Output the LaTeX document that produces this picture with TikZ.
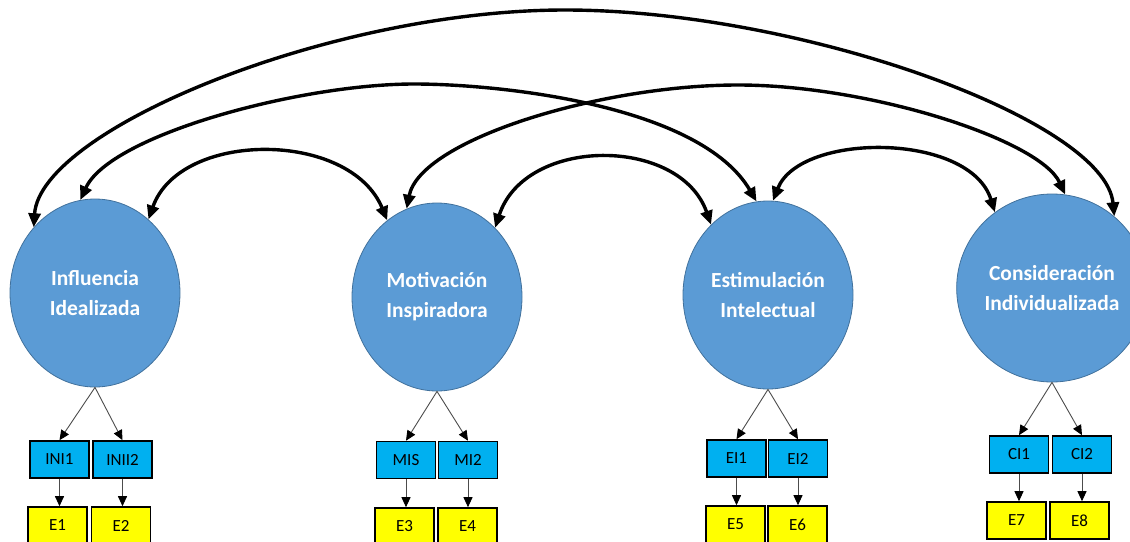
\documentclass[tikz,border=0pt]{standalone}
\usepackage{fontspec}
\setmainfont{Carlito}
\usetikzlibrary{shapes.geometric,arrows.meta}
\definecolor{factorblue}{HTML}{5B9BD5}
\definecolor{factoredge}{HTML}{41719C}
\definecolor{itemcyan}{HTML}{00B0F0}
\definecolor{erryellow}{HTML}{FFFF00}
\begin{document}
\begin{tikzpicture}[x=1pt,y=-1pt,
  factor/.style={ellipse, draw=factoredge, line width=0.8pt, fill=factorblue,
    minimum width=170pt, minimum height=188pt, inner sep=0pt, align=center,
    text=white, font=\fontsize{21.5}{30}\selectfont\bfseries},
  item/.style={rectangle, draw=black, line width=1.6pt, fill=itemcyan,
    minimum width=59pt, minimum height=37pt, inner sep=0pt,
    font=\fontsize{17}{20}\selectfont},
  err/.style={item, fill=erryellow},
  cov/.style={line width=3.4pt,
    {Triangle[length=14pt,width=12pt]}-{Triangle[length=14pt,width=12pt]}},
  load/.style={line width=0.9pt, draw=black!70,
    -{Triangle[length=10pt,width=9pt,color=black]}},
]
\useasboundingbox (0,0) rectangle (1130,541);

% latent factors
\node[factor] (e1) at (95,293)   {Influencia\\Idealizada};
\node[factor] (e2) at (437,297)  {Motivación\\Inspiradora};
\node[factor] (e3) at (768,295)  {Estimulación\\Intelectual};
\node[factor] (e4) at (1052,288) {Consideración\\Individualizada};

% indicators
\node[item] (i1) at (59.5,459.5)  {INI1};
\node[item] (i2) at (122.5,459.5) {INII2};
\node[item] (i3) at (406,460)     {MIS};
\node[item] (i4) at (468,460)     {MI2};
\node[item] (i5) at (736.5,458.5) {EI1};
\node[item] (i6) at (798,458.5)   {EI2};
\node[item] (i7) at (1019,454.5)  {CI1};
\node[item] (i8) at (1082,454.5)  {CI2};

% error terms
\node[err] (r1) at (57.5,525.5)   {E1};
\node[err] (r2) at (121,525.5)    {E2};
\node[err] (r3) at (404.5,526.5)  {E3};
\node[err] (r4) at (467.5,526.5)  {E4};
\node[err] (r5) at (735.5,524.5)  {E5};
\node[err] (r6) at (797.5,524.5)  {E6};
\node[err] (r7) at (1016.5,520.5) {E7};
\node[err] (r8) at (1079.5,520.5) {E8};

% loadings
\draw[load] (e1.south) -- (i1.north);
\draw[load] (e1.south) -- (i2.north);
\draw[load] (e2.south) -- (i3.north);
\draw[load] (e2.south) -- (i4.north);
\draw[load] (e3.south) -- (i5.north);
\draw[load] (e3.south) -- (i6.north);
\draw[load] (e4.south) -- (i7.north);
\draw[load] (e4.south) -- (i8.north);

% error paths, kept vertical
\draw[load] (i1.south) -- (i1.south |- r1.north);
\draw[load] (i2.south) -- (i2.south |- r2.north);
\draw[load] (i3.south) -- (i3.south |- r3.north);
\draw[load] (i4.south) -- (i4.south |- r4.north);
\draw[load] (i5.south) -- (i5.south |- r5.north);
\draw[load] (i6.south) -- (i6.south |- r6.north);
\draw[load] (i7.south) -- (i7.south |- r7.north);
\draw[load] (i8.south) -- (i8.south |- r8.north);

% apexes of the long covariance arcs
\coordinate (apexA) at (565,10);
\coordinate (apexB) at (414,84);
\coordinate (apexC) at (738,85);

% covariances
\draw[cov] (e1.133) .. controls (40,130) and (330,10) .. (apexA)
  .. controls (800,10) and (1105,120) .. (e4.49);
\draw[cov] (e1.99) .. controls (110,135) and (300,84) .. (apexB)
  .. controls (500,84) and (700,105) .. (e3.97);
\draw[cov] (e2.109) .. controls (420,140) and (600,85) .. (apexC)
  .. controls (870,85) and (1040,140) .. (e4.82);
\draw[cov] (e1.54) .. controls (180,130) and (350,130) .. (e2.123);
\draw[cov] (e2.50) .. controls (525,136) and (680,136) .. (e3.129);
\draw[cov] (e3.87) .. controls (800,132) and (970,132) .. (e4.127);
\end{tikzpicture}
\end{document}
